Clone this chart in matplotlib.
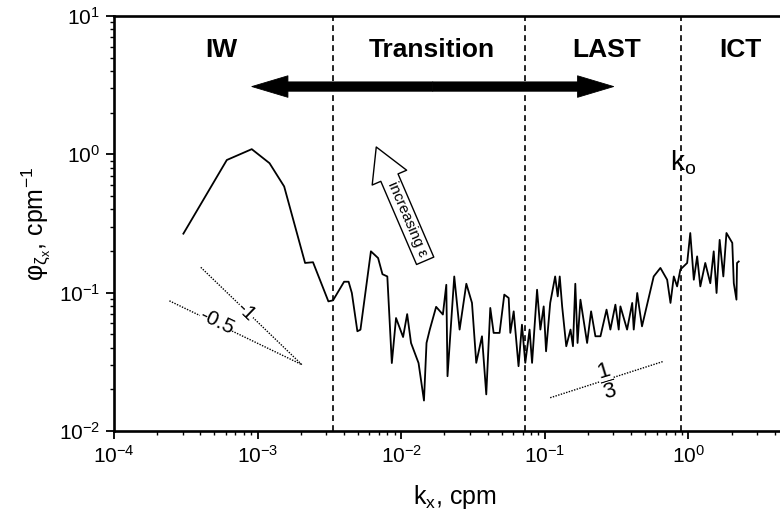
import matplotlib
matplotlib.use('Agg')
import matplotlib.pyplot as plt
from matplotlib.patches import FancyArrowPatch
import numpy as np

plt.rcParams['font.family'] = ['Liberation Sans', 'DejaVu Sans']
plt.rcParams['mathtext.fontset'] = 'custom'
plt.rcParams['mathtext.rm'] = 'Liberation Sans'
plt.rcParams['mathtext.it'] = 'Liberation Sans:italic'
plt.rcParams['mathtext.bf'] = 'Liberation Sans:bold'

# spectrum
kx = [3.04e-4, 6.1e-4, 9.1e-4, 1.21e-3, 1.53e-3, 2.14e-3, 2.43e-3, 3.11e-3,
      3.35e-3, 4.0e-3, 4.3e-3, 4.53e-3, 4.95e-3, 5.2e-3, 6.15e-3, 6.9e-3,
      7.4e-3, 8.0e-3, 8.6e-3, 9.2e-3, 1.03e-2, 1.1e-2, 1.17e-2, 1.32e-2,
      1.44e-2, 1.5e-2, 1.58e-2, 1.75e-2, 1.95e-2, 2.06e-2, 2.1e-2,
      0.0234, 0.0255, 0.0284, 0.0311, 0.0333, 0.0365, 0.0391, 0.0417,
      0.0440, 0.0484, 0.0522, 0.0560, 0.0575, 0.0607, 0.0656, 0.0693,
      0.0731, 0.0783, 0.0815, 0.0883, 0.0931, 0.0982, 0.102, 0.109,
      0.118, 0.123, 0.127, 0.132, 0.141, 0.151, 0.157, 0.163, 0.169,
      0.177, 0.197, 0.210, 0.225, 0.244, 0.269, 0.286, 0.310, 0.327,
      0.336, 0.374, 0.406, 0.416, 0.440, 0.453, 0.475, 0.573, 0.638,
      0.711, 0.750, 0.791, 0.834, 0.879, 0.980, 1.03, 1.09, 1.15, 1.21,
      1.31, 1.42, 1.50, 1.57, 1.65, 1.75, 1.84, 2.02, 2.07, 2.16, 2.18, 2.24]
phi = [0.267, 0.91, 1.09, 0.863, 0.586, 0.164, 0.166, 0.0865,
       0.088, 0.12, 0.12, 0.0995, 0.0526, 0.054, 0.199, 0.178,
       0.136, 0.131, 0.031, 0.0656, 0.0478, 0.070, 0.0433, 0.031,
       0.0166, 0.0433, 0.054, 0.079, 0.0695, 0.114, 0.0249,
       0.131, 0.0541, 0.116, 0.0843, 0.0311, 0.0484, 0.0184, 0.0776,
       0.0512, 0.0512, 0.0968, 0.0916, 0.0512, 0.0733, 0.0294, 0.0587,
       0.0311, 0.0541, 0.0311, 0.105, 0.0541, 0.0796, 0.0377, 0.0843,
       0.131, 0.094, 0.131, 0.0796, 0.0410, 0.0541, 0.0410, 0.116, 0.0433,
       0.089, 0.0433, 0.0733, 0.0484, 0.0484, 0.0754, 0.0541, 0.0819, 0.0541,
       0.0796, 0.0541, 0.0843, 0.0541, 0.0995, 0.0796, 0.0571, 0.131, 0.151,
       0.124, 0.0843, 0.131, 0.111, 0.147, 0.164, 0.270, 0.124, 0.183, 0.111,
       0.164, 0.117, 0.199, 0.0995, 0.241, 0.131, 0.270, 0.229, 0.117, 0.089, 0.164, 0.168]

regime_bounds = [3.36e-3, 0.0731, 0.893]
regime_names = ['IW', 'Transition', 'LAST', 'ICT']
regime_x = [5.57e-4, 0.0162, 0.268, 2.30]
regime_y = 5.7

# double arrow spanning the regimes
span_left, span_right, span_y = 9.11e-4, 0.3016, 3.09
# "increasing epsilon" arrow: tail, tip, text position
eps_tail, eps_tip, eps_text = (0.01468, 0.170), (6.70e-3, 1.13), (0.01101, 0.342)

# reference slopes: (slope, start kx, label, label kx, label phi, angle)
slope_anchor = (2.03e-3, 0.0302)
slopes = [(-1, 4.02e-4, '-1', 8.3e-4, 0.0733, -44),
          (-0.5, 2.43e-4, '-0.5', 5.2e-4, 0.062, -25.6)]
third_anchor = (0.109, 0.0174)
third_end = 0.673

fig = plt.figure(figsize=(7.8, 5.16), dpi=100)
ax = fig.add_axes([0.1462, 0.1647, 0.9205, 0.8043])
ax.set_xscale('log')
ax.set_yscale('log')
ax.set_xlim(1e-4, 1e1)
ax.set_ylim(1e-2, 1e1)
ax.set_xticks([1e-4, 1e-3, 1e-2, 1e-1, 1e0])

ax.plot(kx, phi, color='black', lw=1.3)

for b in regime_bounds:
    ax.axvline(b, color='black', lw=1.2, dashes=(3.5, 2.5))

for name, xp in zip(regime_names, regime_x):
    ax.text(xp, regime_y, name, ha='center', va='center', fontsize=19, fontweight='bold')

# two halves meeting in the middle; a thin black edge hides the joint
mid = np.sqrt(span_left * span_right)
for end in (span_left, span_right):
    ax.add_patch(FancyArrowPatch((mid, span_y), (end, span_y),
                                 arrowstyle='simple,head_length=2.6,head_width=1.55,tail_width=0.67',
                                 mutation_scale=10, lw=0.6, fc='black', ec='black',
                                 shrinkA=0, shrinkB=0))

ax.add_patch(FancyArrowPatch(eps_tail, eps_tip,
                             arrowstyle='simple,head_length=2.4,head_width=2.7,tail_width=1.35',
                             mutation_scale=10, lw=1, fc='white', ec='black',
                             shrinkA=0, shrinkB=0, zorder=3))
ax.text(*eps_text, 'increasing ε', rotation=-66.7, ha='center', va='center',
        fontsize=11, zorder=4)

x0, y0 = slope_anchor
for s, xs, lab, lx, ly, ang in slopes:
    xx = np.array([xs, x0])
    ax.plot(xx, y0 * (xx / x0) ** s, color='black', lw=1, ls=(0, (1, 1)))
    ax.text(lx, ly, lab, rotation=ang, ha='center', va='center', fontsize=15,
            bbox=dict(fc='white', ec='none', pad=0))

xx = np.array([third_anchor[0], third_end])
ax.plot(xx, third_anchor[1] * (xx / third_anchor[0]) ** (1 / 3), color='black', lw=1, ls=(0, (1, 1)))
ax.text(0.2685, 0.0232, r'$\dfrac{1}{3}$', rotation=17, ha='center', va='center', fontsize=16,
        bbox=dict(fc='white', ec='none', pad=0))

ax.text(0.923, 0.869, r'k$_\mathregular{o}$', ha='center', va='center', fontsize=20)

for sp in ax.spines.values():
    sp.set_linewidth(1.9)
ax.spines['right'].set_visible(False)
ax.tick_params(which='major', direction='out', length=6, width=1.3, labelsize=15, pad=4)
ax.tick_params(which='minor', direction='out', length=3, width=1.0)

ax.set_xlabel(r'k$_\mathregular{x}$, cpm', fontsize=18)
ax.xaxis.set_label_coords(0.475, -0.125)
ax.set_ylabel(r'$\mathrm{\varphi}_{\mathrm{\zeta}_\mathrm{x}}$, cpm$^{-1}$', fontsize=18)

fig.savefig('out.png', dpi=100)
